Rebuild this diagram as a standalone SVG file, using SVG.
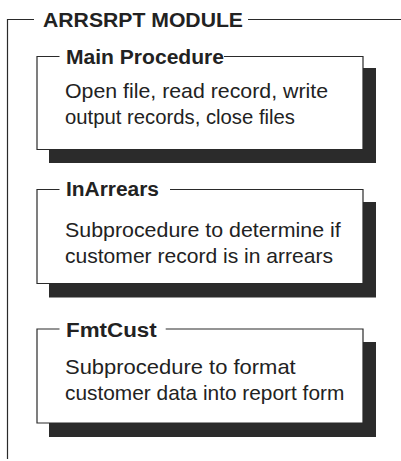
<svg xmlns="http://www.w3.org/2000/svg" width="401" height="461" viewBox="0 0 401 461">
<style>
.ln{fill:none;stroke:#2a2a2a;stroke-width:1.2}
.shadow{fill:#2b2b2b}
.box{fill:#fff}
.ttl{font-family:"Liberation Sans",Arial,sans-serif;font-weight:bold;font-size:20px;fill:#222}
.body{font-family:"Liberation Sans",Arial,sans-serif;font-size:21px;fill:#222}
</style>
<rect width="401" height="461" fill="#fff"/>
<g id="module">
<path class="ln" d="M34,19.5 H7.5 V459 M248,19.5 H401"/>
<text class="ttl" x="43" y="27.3" textLength="200" lengthAdjust="spacingAndGlyphs">ARRSRPT MODULE</text>
</g>
<g id="main-procedure">
<rect class="shadow" x="49" y="68" width="327" height="95"/>
<rect class="box" x="37" y="56.5" width="326" height="93"/>
<path class="ln" d="M59.5,56.5 H37 V149.5 H363 V56.5 H224"/>
<text class="ttl" x="66" y="63.5" textLength="158" lengthAdjust="spacingAndGlyphs">Main Procedure</text>
<text class="body" x="65" y="97.7" textLength="263" lengthAdjust="spacingAndGlyphs">Open file, read record, write</text>
<text class="body" x="65" y="124" textLength="230" lengthAdjust="spacingAndGlyphs">output records, close files</text>
</g>
<g id="inarrears">
<rect class="shadow" x="49" y="202" width="327" height="95.5"/>
<rect class="box" x="37" y="189.5" width="326" height="94"/>
<path class="ln" d="M59.5,189.5 H37 V283.5 H363 V189.5 H170"/>
<text class="ttl" x="66" y="195.8" textLength="93" lengthAdjust="spacingAndGlyphs">InArrears</text>
<text class="body" x="65" y="237.3" textLength="275.7" lengthAdjust="spacingAndGlyphs">Subprocedure to determine if</text>
<text class="body" x="65" y="263.3" textLength="268" lengthAdjust="spacingAndGlyphs">customer record is in arrears</text>
</g>
<g id="fmtcust">
<rect class="shadow" x="49" y="342" width="327" height="95"/>
<rect class="box" x="37" y="329" width="326" height="94"/>
<path class="ln" d="M59.5,329 H37 V423 H363 V329 H165.7"/>
<text class="ttl" x="66" y="337.3" textLength="90.7" lengthAdjust="spacingAndGlyphs">FmtCust</text>
<text class="body" x="65" y="374" textLength="230.7" lengthAdjust="spacingAndGlyphs">Subprocedure to format</text>
<text class="body" x="65" y="400" textLength="279.3" lengthAdjust="spacingAndGlyphs">customer data into report form</text>
</g>
<g id="connectors"></g>
</svg>
